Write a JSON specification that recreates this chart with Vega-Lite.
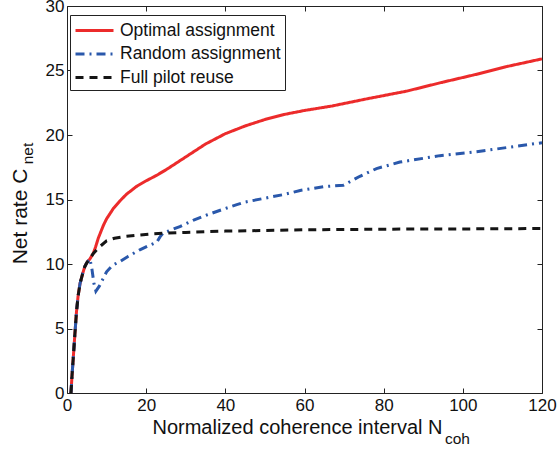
{
  "$schema": "https://vega.github.io/schema/vega-lite/v6.json",
  "width": 475,
  "height": 387,
  "autosize": {"type": "none"},
  "padding": {"left": 67, "top": 6, "right": 16, "bottom": 57},
  "config": {
    "font": "Liberation Sans",
    "view": {"stroke": "#222", "strokeWidth": 1},
    "axis": {"grid": false, "domain": false, "tickColor": "#222", "tickSize": -5, "labelColor": "#111", "titleColor": "#111", "labelFontSize": 17, "titleFontWeight": "normal", "labelFlush": false, "labelFont": "Liberation Sans", "titleFont": "Liberation Sans"}
  },
  "datasets": {
    "curves": [
      {"s": "Optimal assignment", "x": 1, "y": 0},
      {"s": "Optimal assignment", "x": 1.3, "y": 1.5},
      {"s": "Optimal assignment", "x": 1.6, "y": 2.8},
      {"s": "Optimal assignment", "x": 2, "y": 4.6},
      {"s": "Optimal assignment", "x": 2.4, "y": 6.3},
      {"s": "Optimal assignment", "x": 2.8, "y": 7.5},
      {"s": "Optimal assignment", "x": 3.3, "y": 8.5},
      {"s": "Optimal assignment", "x": 4, "y": 9.3},
      {"s": "Optimal assignment", "x": 4.5, "y": 9.8},
      {"s": "Optimal assignment", "x": 5, "y": 10.1},
      {"s": "Optimal assignment", "x": 5.8, "y": 10.4},
      {"s": "Optimal assignment", "x": 6.6, "y": 10.8},
      {"s": "Optimal assignment", "x": 7.2, "y": 11.3},
      {"s": "Optimal assignment", "x": 7.9, "y": 12.0},
      {"s": "Optimal assignment", "x": 9.2, "y": 13.0},
      {"s": "Optimal assignment", "x": 10, "y": 13.5},
      {"s": "Optimal assignment", "x": 11.7, "y": 14.3},
      {"s": "Optimal assignment", "x": 13.4, "y": 14.9},
      {"s": "Optimal assignment", "x": 15, "y": 15.4},
      {"s": "Optimal assignment", "x": 17.5, "y": 16.0},
      {"s": "Optimal assignment", "x": 20, "y": 16.45},
      {"s": "Optimal assignment", "x": 22.5, "y": 16.85},
      {"s": "Optimal assignment", "x": 25, "y": 17.3},
      {"s": "Optimal assignment", "x": 27.5, "y": 17.8},
      {"s": "Optimal assignment", "x": 30, "y": 18.3},
      {"s": "Optimal assignment", "x": 35, "y": 19.3},
      {"s": "Optimal assignment", "x": 40, "y": 20.1},
      {"s": "Optimal assignment", "x": 45, "y": 20.7},
      {"s": "Optimal assignment", "x": 50, "y": 21.2},
      {"s": "Optimal assignment", "x": 55, "y": 21.6},
      {"s": "Optimal assignment", "x": 60, "y": 21.9},
      {"s": "Optimal assignment", "x": 67, "y": 22.25},
      {"s": "Optimal assignment", "x": 75.7, "y": 22.8},
      {"s": "Optimal assignment", "x": 85.8, "y": 23.4},
      {"s": "Optimal assignment", "x": 95, "y": 24.1},
      {"s": "Optimal assignment", "x": 102.7, "y": 24.65},
      {"s": "Optimal assignment", "x": 111, "y": 25.3},
      {"s": "Optimal assignment", "x": 120, "y": 25.9},
      {"s": "Random assignment", "x": 1, "y": 0},
      {"s": "Random assignment", "x": 1.3, "y": 1.5},
      {"s": "Random assignment", "x": 1.6, "y": 2.8},
      {"s": "Random assignment", "x": 2, "y": 4.6},
      {"s": "Random assignment", "x": 2.4, "y": 6.3},
      {"s": "Random assignment", "x": 2.8, "y": 7.5},
      {"s": "Random assignment", "x": 3.3, "y": 8.5},
      {"s": "Random assignment", "x": 4, "y": 9.3},
      {"s": "Random assignment", "x": 4.5, "y": 9.8},
      {"s": "Random assignment", "x": 5, "y": 10.1},
      {"s": "Random assignment", "x": 5.8, "y": 10.4},
      {"s": "Random assignment", "x": 6.3, "y": 9.6},
      {"s": "Random assignment", "x": 6.8, "y": 8.5},
      {"s": "Random assignment", "x": 7.3, "y": 7.9},
      {"s": "Random assignment", "x": 8.2, "y": 8.3},
      {"s": "Random assignment", "x": 10, "y": 9.4},
      {"s": "Random assignment", "x": 11.5, "y": 9.9},
      {"s": "Random assignment", "x": 13.4, "y": 10.2},
      {"s": "Random assignment", "x": 15.5, "y": 10.6},
      {"s": "Random assignment", "x": 18.4, "y": 11.1},
      {"s": "Random assignment", "x": 20.5, "y": 11.4},
      {"s": "Random assignment", "x": 22.7, "y": 11.7},
      {"s": "Random assignment", "x": 23.5, "y": 12.1},
      {"s": "Random assignment", "x": 24.3, "y": 12.4},
      {"s": "Random assignment", "x": 28.5, "y": 12.9},
      {"s": "Random assignment", "x": 32, "y": 13.4},
      {"s": "Random assignment", "x": 35.3, "y": 13.8},
      {"s": "Random assignment", "x": 40, "y": 14.3},
      {"s": "Random assignment", "x": 42.9, "y": 14.6},
      {"s": "Random assignment", "x": 45, "y": 14.8},
      {"s": "Random assignment", "x": 50, "y": 15.1},
      {"s": "Random assignment", "x": 55, "y": 15.4},
      {"s": "Random assignment", "x": 58.9, "y": 15.7},
      {"s": "Random assignment", "x": 65, "y": 16.0},
      {"s": "Random assignment", "x": 69.8, "y": 16.1},
      {"s": "Random assignment", "x": 74, "y": 16.8},
      {"s": "Random assignment", "x": 78.2, "y": 17.4},
      {"s": "Random assignment", "x": 84.1, "y": 17.9},
      {"s": "Random assignment", "x": 94.2, "y": 18.4},
      {"s": "Random assignment", "x": 103.5, "y": 18.7},
      {"s": "Random assignment", "x": 112.8, "y": 19.1},
      {"s": "Random assignment", "x": 120, "y": 19.4},
      {"s": "Full pilot reuse", "x": 1, "y": 0},
      {"s": "Full pilot reuse", "x": 1.3, "y": 1.5},
      {"s": "Full pilot reuse", "x": 1.6, "y": 2.8},
      {"s": "Full pilot reuse", "x": 2, "y": 4.6},
      {"s": "Full pilot reuse", "x": 2.4, "y": 6.3},
      {"s": "Full pilot reuse", "x": 2.8, "y": 7.5},
      {"s": "Full pilot reuse", "x": 3.3, "y": 8.5},
      {"s": "Full pilot reuse", "x": 4, "y": 9.3},
      {"s": "Full pilot reuse", "x": 4.5, "y": 9.8},
      {"s": "Full pilot reuse", "x": 5, "y": 10.1},
      {"s": "Full pilot reuse", "x": 5.8, "y": 10.4},
      {"s": "Full pilot reuse", "x": 6.6, "y": 10.8},
      {"s": "Full pilot reuse", "x": 7.5, "y": 11.1},
      {"s": "Full pilot reuse", "x": 8.5, "y": 11.4},
      {"s": "Full pilot reuse", "x": 10, "y": 11.8},
      {"s": "Full pilot reuse", "x": 12, "y": 12.0},
      {"s": "Full pilot reuse", "x": 15, "y": 12.15},
      {"s": "Full pilot reuse", "x": 18.4, "y": 12.25},
      {"s": "Full pilot reuse", "x": 22, "y": 12.35},
      {"s": "Full pilot reuse", "x": 25, "y": 12.4},
      {"s": "Full pilot reuse", "x": 30, "y": 12.45},
      {"s": "Full pilot reuse", "x": 40, "y": 12.55},
      {"s": "Full pilot reuse", "x": 50, "y": 12.6},
      {"s": "Full pilot reuse", "x": 60, "y": 12.65},
      {"s": "Full pilot reuse", "x": 80, "y": 12.7},
      {"s": "Full pilot reuse", "x": 100, "y": 12.72},
      {"s": "Full pilot reuse", "x": 120, "y": 12.75}
    ]
  },
  "data": {"name": "curves"},
  "layer": [
    {
      "mark": {"type": "line", "strokeWidth": 3, "strokeCap": "butt"},
      "encoding": {
        "x": {"field": "x", "type": "quantitative", "scale": {"domain": [0, 120], "nice": false, "zero": false},
          "axis": {"orient": "bottom", "values": [0, 20, 40, 60, 80, 100, 120], "labelPadding": 9, "title": "Normalized coherence interval N", "titleFontSize": 20, "titleX": 230, "titleY": 40, "titleBaseline": "alphabetic", "titleAlign": "center"}},
        "y": {"field": "y", "type": "quantitative", "scale": {"domain": [0, 30], "nice": false, "zero": false},
          "axis": {"orient": "left", "values": [0, 5, 10, 15, 20, 25, 30], "labelPadding": 8, "title": "Net rate C", "titleFontSize": 21, "titleAngle": 270, "titleX": -41, "titleY": 210, "titleBaseline": "alphabetic", "titleAlign": "center"}},
        "color": {"field": "s", "type": "nominal", "sort": null,
          "scale": {"domain": ["Optimal assignment", "Random assignment", "Full pilot reuse"], "range": ["#ec2b2b", "#2a58ab", "#151515"]},
          "legend": {"title": null, "orient": "none", "legendX": 3, "legendY": 9, "strokeColor": "#222", "fillColor": "#fff", "padding": 4, "labelFontSize": 17.5, "labelColor": "#111", "labelLimit": 300, "labelOffset": 23, "symbolType": "M-1,0H2.8", "symbolSize": 400, "symbolStrokeWidth": 3, "rowPadding": 3.5, "cornerRadius": 0}},
        "strokeDash": {"field": "s", "type": "nominal", "sort": null,
          "scale": {"domain": ["Optimal assignment", "Random assignment", "Full pilot reuse"], "range": [[1, 0], [9, 5, 2, 5], [8, 6]]},
          "legend": {"title": null, "orient": "none", "legendX": 3, "legendY": 9, "strokeColor": "#222", "fillColor": "#fff", "padding": 4, "labelFontSize": 17.5, "labelColor": "#111", "labelLimit": 300, "labelOffset": 23, "symbolType": "M-1,0H2.8", "symbolSize": 400, "symbolStrokeWidth": 3, "rowPadding": 3.5, "cornerRadius": 0}}
      }
    },
    {
      "mark": {"type": "point", "opacity": 0},
      "encoding": {
        "x": {"field": "x", "type": "quantitative",
          "axis": {"orient": "bottom", "labels": false, "ticks": false, "title": "coh", "titleFontSize": 15.5, "titleX": 390, "titleY": 50, "titleBaseline": "alphabetic", "titleAlign": "center"}},
        "y": {"field": "y", "type": "quantitative",
          "axis": {"orient": "left", "labels": false, "ticks": false, "title": "net", "titleFontSize": 15.5, "titleAngle": 270, "titleX": -35, "titleY": 147, "titleBaseline": "alphabetic", "titleAlign": "center"}}
      }
    },
    {
      "mark": {"type": "point", "opacity": 0},
      "encoding": {
        "x": {"field": "x", "type": "quantitative",
          "axis": {"orient": "top", "labels": false, "values": [0, 20, 40, 60, 80, 100, 120], "title": null}},
        "y": {"field": "y", "type": "quantitative",
          "axis": {"orient": "right", "labels": false, "values": [0, 5, 10, 15, 20, 25, 30], "title": null}}
      }
    }
  ],
  "resolve": {"axis": {"x": "independent", "y": "independent"}}
}
